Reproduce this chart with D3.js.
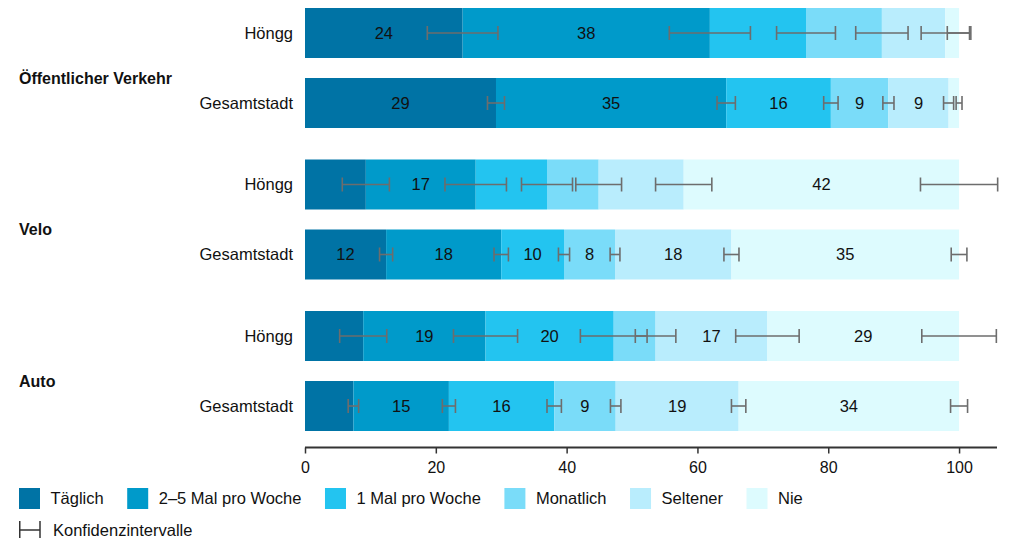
<!DOCTYPE html>
<html><head><meta charset="utf-8">
<script src="https://cdn.jsdelivr.net/npm/d3@7"></script>
<style>
html,body{margin:0;padding:0;background:#fff;}
svg{display:block;font-family:"Liberation Sans",Arial,Helvetica,sans-serif;}
</style></head>
<body><svg id="chart" width="1022" height="538"></svg>
<script>
// ---- data ----
const groups = ["Öffentlicher Verkehr", "Velo", "Auto"];
const areas = ["Höngg", "Gesamtstadt"];
const categories = ["Täglich", "2–5 Mal pro Woche", "1 Mal pro Woche", "Monatlich", "Seltener", "Nie"];
const tickValues = [0, 20, 40, 60, 80, 100];
const ciLegendLabel = "Konfidenzintervalle";

const oevHoengg  = [24.1, 37.8, 14.7, 11.6, 9.7, 2.1];
const oevStadt   = [29.2, 35.2, 16.0, 8.8, 9.2, 1.6];
const veloHoengg = [9.3, 16.8, 10.9, 7.9, 13.0, 42.1];
const veloStadt  = [12.4, 17.6, 9.6, 7.8, 17.8, 34.8];
const autoHoengg = [8.9, 18.7, 19.6, 6.4, 17.1, 29.3];
const autoStadt  = [7.4, 14.6, 16.1, 9.4, 18.8, 33.7];

// confidence interval half-widths (percentage points)
const oevHoenggCI  = [5.4, 6.2, 4.5, 4.0, 3.7, 1.8];
const oevStadtCI   = [1.3, 1.4, 1.1, 0.85, 0.77, 0.45];
const veloHoenggCI = [3.6, 4.7, 3.9, 3.5, 4.3, 5.9];
const veloStadtCI  = [1.0, 1.1, 0.85, 0.75, 1.15, 1.2];
const autoHoenggCI = [3.6, 4.9, 5.1, 3.1, 4.85, 5.7];
const autoStadtCI  = [0.8, 1.0, 1.1, 0.8, 1.1, 1.3];

// which segments carry a value label
const oevHoenggLbl  = [1, 1, 0, 0, 0, 0];
const oevStadtLbl   = [1, 1, 1, 1, 1, 0];
const veloHoenggLbl = [0, 1, 0, 0, 0, 1];
const veloStadtLbl  = [1, 1, 1, 1, 1, 1];
const autoHoenggLbl = [0, 1, 1, 0, 1, 1];
const autoStadtLbl  = [0, 1, 1, 1, 1, 1];

const colors = ["#0073a5", "#009aca", "#23c4f0", "#7adcf9", "#b9edfd", "#ddfbfe"];

const rows = [
  {group: groups[0], area: areas[0], values: oevHoengg,  ci: oevHoenggCI,  lbl: oevHoenggLbl},
  {group: groups[0], area: areas[1], values: oevStadt,   ci: oevStadtCI,   lbl: oevStadtLbl},
  {group: groups[1], area: areas[0], values: veloHoengg, ci: veloHoenggCI, lbl: veloHoenggLbl},
  {group: groups[1], area: areas[1], values: veloStadt,  ci: veloStadtCI,  lbl: veloStadtLbl},
  {group: groups[2], area: areas[0], values: autoHoengg, ci: autoHoenggCI, lbl: autoHoenggLbl},
  {group: groups[2], area: areas[1], values: autoStadt,  ci: autoStadtCI,  lbl: autoStadtLbl},
];

// ---- layout ----
const svg = d3.select("#chart");
const FS = 16.5;
const x = d3.scaleLinear().domain([0, 105.8]).range([305, 997]);
const yGroup = d3.scaleBand().domain(groups).range([8, 431]).paddingInner(31.5 / 151.5).paddingOuter(0);
const yArea = d3.scaleBand().domain(areas).range([0, yGroup.bandwidth()]).paddingInner(20 / 70).paddingOuter(0);
const color = d3.scaleOrdinal().domain(categories).range(colors);
const rowY = r => yGroup(r.group) + yArea(r.area);
const bh = yArea.bandwidth();

rows.forEach(r => {
  let acc = 0;
  r.segs = r.values.map((v, i) => {
    const s = {cat: categories[i], x0: acc, x1: acc + v, v, ci: r.ci[i], lbl: r.lbl[i]};
    acc += v;
    return s;
  });
  r.segs[r.segs.length - 1].x1 = 100;
});

const rowG = svg.selectAll("g.row").data(rows).join("g")
  .attr("class", "row")
  .attr("transform", r => `translate(0,${rowY(r)})`);

rowG.selectAll("rect").data(r => r.segs).join("rect")
  .attr("x", d => x(d.x0))
  .attr("width", d => x(d.x1) - x(d.x0))
  .attr("y", 0).attr("height", bh)
  .attr("fill", d => color(d.cat));

rowG.selectAll("text.val").data(r => r.segs.filter(d => d.lbl)).join("text")
  .attr("class", "val")
  .attr("x", d => x((d.x0 + d.x1) / 2))
  .attr("y", bh / 2).attr("dy", "0.36em")
  .attr("text-anchor", "middle")
  .attr("font-size", FS).attr("fill", "#111")
  .text(d => Math.round(d.v));

const capH = 14;
const eb = rowG.selectAll("g.eb").data(r => r.segs).join("g").attr("class", "eb")
  .attr("stroke", "#6d6d6d").attr("stroke-width", 1.6).attr("fill", "none");
eb.append("line")
  .attr("x1", d => x(d.x1 - d.ci)).attr("x2", d => x(d.x1 + d.ci))
  .attr("y1", bh / 2).attr("y2", bh / 2);
eb.append("line")
  .attr("x1", d => x(d.x1 - d.ci)).attr("x2", d => x(d.x1 - d.ci))
  .attr("y1", bh / 2 - capH / 2).attr("y2", bh / 2 + capH / 2);
eb.append("line")
  .attr("x1", d => x(d.x1 + d.ci)).attr("x2", d => x(d.x1 + d.ci))
  .attr("y1", bh / 2 - capH / 2).attr("y2", bh / 2 + capH / 2);

rowG.append("text")
  .attr("x", x(0) - 12).attr("y", bh / 2).attr("dy", "0.36em")
  .attr("text-anchor", "end").attr("font-size", FS).attr("fill", "#111")
  .text(r => r.area);

svg.selectAll("text.grp").data(groups).join("text")
  .attr("class", "grp")
  .attr("x", 19)
  .attr("y", g => yGroup(g) + yGroup.bandwidth() / 2 + 15.5)
  .attr("font-size", 16).attr("font-weight", "bold").attr("fill", "#111")
  .text(g => g);

const axisY = 447.5;
const axis = svg.append("g").attr("transform", `translate(0,${axisY})`)
  .call(d3.axisBottom(x).tickValues(tickValues).tickSize(6).tickPadding(8.5).tickFormat(d3.format("d")));
axis.select(".domain").remove();
axis.selectAll(".tick line").attr("stroke", "#333").attr("stroke-width", 1.5);
axis.selectAll(".tick text").attr("font-size", 16).attr("fill", "#111")
  .attr("font-family", "'Liberation Sans',Arial,sans-serif");
axis.append("line").attr("x1", x.range()[0]).attr("x2", x.range()[1])
  .attr("y1", 0).attr("y2", 0).attr("stroke", "#333").attr("stroke-width", 2);

const leg = svg.append("g").attr("transform", "translate(19,488)");
let lx = 0;
categories.forEach(c => {
  const g = leg.append("g").attr("transform", `translate(${lx},0)`);
  g.append("rect").attr("width", 21).attr("height", 21).attr("fill", color(c));
  const t = g.append("text").attr("x", 31.5).attr("y", 10.5).attr("dy", "0.36em")
    .attr("font-size", FS).attr("fill", "#111").text(c);
  lx += 31.5 + t.node().getComputedTextLength() + 23.5;
});
const ci = svg.append("g").attr("transform", "translate(19,530)")
  .attr("stroke", "#333").attr("stroke-width", 1.5);
ci.append("line").attr("x1", 0.75).attr("x2", 0.75).attr("y1", -9).attr("y2", 9);
ci.append("line").attr("x1", 21).attr("x2", 21).attr("y1", -9).attr("y2", 9);
ci.append("line").attr("x1", 0.75).attr("x2", 21).attr("y1", 0).attr("y2", 0);
svg.append("text").attr("x", 53).attr("y", 530).attr("dy", "0.36em")
  .attr("font-size", FS).attr("fill", "#111").text(ciLegendLabel);
</script>
</body></html>
